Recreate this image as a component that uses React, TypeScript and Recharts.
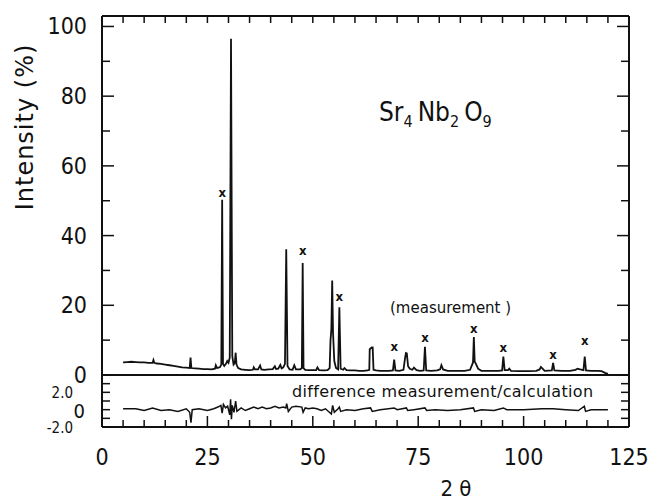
import React from 'react';
import { ComposedChart, Line, Scatter, XAxis, YAxis } from 'recharts';

// measured pattern: [2 theta, intensity %]
const measured: [number, number][] = [
  [5, 3.6], [6, 3.7], [7, 3.8], [8, 3.7], [9, 3.6], [10, 3.6], [11, 3.5], [12, 3.5], [12.2, 4.3], [12.4, 3.5],
  [13, 3.3], [14, 3.2], [15, 3.0], [16, 2.8], [17, 2.6], [18, 2.4], [19, 2.2], [20, 2.1], [20.8, 2.0], [21.0, 5.0],
  [21.2, 2.0], [22, 1.9], [23, 1.8], [24, 1.7], [25, 1.7], [26, 1.6], [26.8, 1.8], [27.0, 2.8], [27.3, 2.0], [28.0, 2.3],
  [28.3, 3.0], [28.5, 50.3], [28.7, 3.2], [29.0, 2.6], [29.4, 3.2], [29.7, 4.0], [30.0, 3.5], [30.3, 5.0], [30.6, 96.5], [30.9, 5.5],
  [31.2, 3.0], [31.5, 3.5], [31.7, 6.4], [31.9, 3.0], [32.3, 2.0], [33, 1.6], [34, 1.5], [35, 1.4], [35.8, 1.5], [36.0, 2.2],
  [36.3, 1.6], [37, 1.6], [37.5, 2.7], [37.8, 1.6], [38.5, 1.5], [39.5, 1.6], [40.5, 1.7], [41.0, 2.5], [41.3, 1.7], [41.8, 1.8],
  [42.3, 2.9], [42.6, 1.9], [43.0, 2.2], [43.4, 3.2], [43.7, 36.1], [44.0, 2.6], [44.5, 1.6], [45.2, 1.5], [45.6, 2.8], [46.0, 1.6],
  [47.0, 1.6], [47.4, 2.0], [47.6, 32.1], [47.8, 2.0], [48.2, 1.5], [49, 1.4], [50, 1.4], [50.8, 1.4], [51.1, 2.2], [51.5, 1.4],
  [52.5, 1.3], [53.5, 1.4], [54.0, 2.0], [54.2, 10.0], [54.4, 13.0], [54.6, 27.1], [54.8, 12.0], [55.1, 4.0], [55.5, 2.0], [56.0, 1.6],
  [56.3, 19.4], [56.6, 1.8], [57.2, 1.5], [57.5, 2.0], [58, 1.4], [59, 1.3], [60, 1.3], [61, 1.2], [62, 1.2], [63, 1.3],
  [63.4, 1.5], [63.5, 7.4], [63.7, 7.6], [64.0, 7.9], [64.2, 7.9], [64.4, 1.5], [65, 1.3], [66, 1.2], [67, 1.2], [68, 1.2],
  [69.0, 1.3], [69.3, 4.4], [69.6, 1.3], [70.5, 1.2], [71.5, 1.5], [71.9, 5.0], [72.1, 6.3], [72.3, 6.2], [72.6, 2.5], [73.0, 1.8],
  [73.6, 1.5], [74.0, 2.1], [74.6, 1.4], [75.5, 1.2], [76.3, 1.3], [76.6, 8.1], [76.9, 1.3], [78, 1.2], [79.5, 1.3], [80.2, 1.6],
  [80.5, 2.8], [80.9, 1.6], [82, 1.2], [84, 1.2], [86, 1.2], [87.3, 1.5], [87.8, 3.0], [88.0, 3.6], [88.2, 10.9], [88.4, 3.8],
  [88.7, 3.2], [89.2, 1.8], [90, 1.2], [92, 1.2], [94, 1.2], [94.9, 1.3], [95.2, 5.3], [95.5, 1.4], [96.3, 1.4], [96.6, 1.8],
  [97, 1.2], [99, 1.1], [101, 1.1], [103, 1.2], [103.8, 1.6], [104.1, 2.3], [104.5, 1.8], [105, 1.2], [106.7, 1.3], [107.0, 3.5],
  [107.3, 1.3], [109, 1.2], [111, 1.2], [112.3, 1.5], [112.8, 1.8], [113.4, 1.6], [114.2, 1.4], [114.5, 5.3], [114.8, 1.3], [116, 1.2],
  [117.5, 1.2], [118.5, 1.1], [119.3, 0.6], [120, 0.3],
];

// difference measurement - calculation
const difference: [number, number][] = [
  [5, 0.1], [8, 0.1], [10, -0.1], [12, 0.2], [14, -0.1], [16, 0], [18, -0.2], [20, 0.1], [20.8, -0.3], [21.1, -1.5],
  [21.4, 0], [23, 0.1], [25, -0.1], [26.5, 0.1], [27.5, 0.3], [28.2, 0.5], [28.5, -0.4], [28.8, 0.6], [29.3, 0.2], [29.8, 0.4],
  [30.3, -0.6], [30.5, 1.2], [30.7, -1.1], [30.9, 0.5], [31.3, -0.3], [31.7, 1.0], [32, -0.2], [33, 0.2], [34, -0.1], [35, 0.1],
  [36, 0.3], [37, 0.1], [38, 0.3], [39, 0.1], [40, 0.2], [41, 0.4], [42, 0.2], [43, 0.3], [43.6, 0.2], [43.8, 0.7],
  [44.2, -0.2], [45, 0.3], [46, 0.4], [47.4, 0.3], [47.7, -0.3], [48.2, 0.2], [49, 0.1], [50, 0.2], [51, 0.1], [52, -0.1],
  [53, 0.1], [54.4, -0.5], [54.7, 0.5], [55.1, -0.3], [56, 0.1], [56.3, 0.3], [56.6, -0.2], [58, 0], [60, -0.1], [62, 0.1],
  [63.7, 0.2], [64.1, -0.2], [66, 0], [69.3, 0.2], [70, 0], [72.2, 0.2], [72.5, -0.1], [74, 0], [76.6, 0.2], [77, -0.1],
  [79, 0], [82, -0.1], [85, 0], [88.1, 0.2], [88.4, -0.2], [90, 0], [93, -0.1], [95.2, 0.2], [96, 0], [100, 0],
  [104.3, 0.1], [107, 0.1], [110, 0], [113, -0.1], [114.4, 0.4], [114.7, -0.2], [116, 0], [118, 0], [120, 0],
];

// "x" marks above the reflections
const reflexMarks: [number, number][] = [
  [28.5, 52.4], [47.6, 35.7], [56.3, 22.5], [69.3, 8.1], [76.6, 10.8], [88.2, 13.2], [95.2, 8.0], [107, 6.0], [114.5, 10.0],
];

const xTicks = [0, 5, 10, 15, 20, 25, 30, 35, 40, 45, 50, 55, 60, 65, 70, 75, 80, 85, 90, 95, 100, 105, 110, 115, 120, 125];
const xLabelled = [0, 25, 50, 75, 100, 125];
const yTicks = [0, 10, 20, 30, 40, 50, 60, 70, 80, 90, 100];
const yLabelled = [0, 20, 40, 60, 80, 100];
const diffTicks = [-2, -1, 0, 1, 2, 3];
const diffLabels: Record<string, string> = { '2': '2.0', '0': '0', '-2': '-2.0' };

const NUM_FONT = "'DejaVu Sans Condensed', 'Liberation Sans Narrow', 'DejaVu Sans', sans-serif";
const TEXT_FONT = "'DejaVu Sans', sans-serif";
const INK = '#111';

const mainData = measured.map(([x, y]) => ({ x, y }));
const diffData = difference.map(([x, y]) => ({ x, y }));
const markData = reflexMarks.map(([x, y]) => ({ x, y }));

const frame = { stroke: INK, strokeWidth: 2 };

const TopTick = ({ x, y }: any) => (
  <line x1={x} x2={x} y1={y} y2={y + 7} stroke={INK} strokeWidth={1.5} />
);

const BottomTick = ({ x, y, payload }: any) => {
  const v = payload.value;
  const major = xLabelled.includes(v);
  return (
    <g>
      <line x1={x} x2={x} y1={y} y2={y - (major ? 11 : 7)} stroke={INK} strokeWidth={1.5} />
      {major && (
        <text x={x} y={y + 30} textAnchor="middle" dominantBaseline="central" fontFamily={NUM_FONT} fontSize={23} fill={INK}>
          {v}
        </text>
      )}
    </g>
  );
};

const LeftTick = ({ x, y, payload }: any) => {
  const v = payload.value;
  const major = yLabelled.includes(v);
  return (
    <g>
      <line x1={x} x2={x + (major ? 12 : 8)} y1={y} y2={y} stroke={INK} strokeWidth={1.5} />
      {major && (
        <text x={x - 15} y={y} textAnchor="end" dominantBaseline="central" fontFamily={NUM_FONT} fontSize={23} fill={INK}>
          {v}
        </text>
      )}
    </g>
  );
};

const RightTick = ({ x, y, payload }: any) => {
  const major = yLabelled.includes(payload.value);
  return <line x1={x} x2={x - (major ? 12 : 8)} y1={y} y2={y} stroke={INK} strokeWidth={1.5} />;
};

const DiffLeftTick = ({ x, y, payload }: any) => {
  const label = diffLabels[String(payload.value)];
  const big = label === '0';
  return (
    <g>
      <line x1={x} x2={x + 8} y1={y} y2={y} stroke={INK} strokeWidth={1.5} />
      {label && (
        <text
          x={big ? x - 17 : x - 29}
          y={y + 1}
          textAnchor="end"
          dominantBaseline="central"
          fontFamily={NUM_FONT}
          fontSize={big ? 20 : 15}
          fill={INK}
        >
          {label}
        </text>
      )}
    </g>
  );
};

const DiffRightTick = ({ x, y }: any) => (
  <line x1={x} x2={x - 8} y1={y} y2={y} stroke={INK} strokeWidth={1.5} />
);

const CrossMark = ({ cx, cy }: any) => (
  <text x={cx} y={cy} textAnchor="middle" dominantBaseline="central" fontFamily={NUM_FONT} fontSize={13} fontWeight={600} fill={INK}>
    x
  </text>
);

const axisBase = { tickSize: 0, tickMargin: 0, tickLine: false, interval: 0 as const, allowDataOverflow: true };

export default function App() {
  return (
    <div style={{ position: 'absolute', left: 0, top: 0, width: 649, height: 503, background: '#fff' }}>
      <div style={{ position: 'absolute', left: 0, top: 370 }}>
        <ComposedChart width={649} height={133} margin={{ top: 4, right: 19, bottom: 75, left: 101 }}>
          <XAxis xAxisId="top" orientation="top" type="number" dataKey="x" domain={[0, 125]}
            height={1} axisLine={frame} tick={false} {...axisBase} />
          <XAxis xAxisId="bottom" orientation="bottom" type="number" dataKey="x" domain={[0, 125]} ticks={xTicks}
            height={1} axisLine={frame} tick={BottomTick} {...axisBase} />
          <YAxis yAxisId="left" type="number" domain={[-2, 4]} ticks={diffTicks}
            width={1} axisLine={frame} tick={DiffLeftTick} {...axisBase} />
          <YAxis yAxisId="right" orientation="right" type="number" domain={[-2, 4]} ticks={diffTicks}
            width={1} axisLine={frame} tick={DiffRightTick} {...axisBase} />
          <Line xAxisId="bottom" yAxisId="left" data={diffData} dataKey="y" type="linear" stroke={INK}
            strokeWidth={1.5} dot={false} isAnimationActive={false} />
        </ComposedChart>
      </div>
      <div style={{ position: 'absolute', left: 0, top: 0 }}>
        <ComposedChart width={649} height={388} margin={{ top: 15, right: 19, bottom: 13, left: 101 }}>
          <XAxis xAxisId="top" orientation="top" type="number" dataKey="x" domain={[0, 125]} ticks={xTicks}
            height={1} axisLine={frame} tick={TopTick} {...axisBase} />
          <YAxis yAxisId="left" type="number" domain={[0, 103]} ticks={yTicks}
            width={1} axisLine={frame} tick={LeftTick} {...axisBase} />
          <YAxis yAxisId="right" orientation="right" type="number" domain={[0, 103]} ticks={yTicks}
            width={1} axisLine={frame} tick={RightTick} {...axisBase} />
          <Line xAxisId="top" yAxisId="left" data={mainData} dataKey="y" type="linear" stroke={INK}
            strokeWidth={1.8} dot={false} isAnimationActive={false} />
          <Scatter xAxisId="top" yAxisId="left" data={markData} dataKey="y" shape={CrossMark} isAnimationActive={false} />
        </ComposedChart>
      </div>
      <svg width={649} height={503} style={{ position: 'absolute', left: 0, top: 0, pointerEvents: 'none' }}>
        <g fontFamily={TEXT_FONT} fill={INK}>
          <text x={25} y={127} transform="rotate(-90 25 127)" textAnchor="middle" dominantBaseline="central"
            fontSize={24} letterSpacing={1}>
            Intensity (%)
          </text>
          <text x={379} y={121} fontSize={26} fontFamily={NUM_FONT}>
            Sr<tspan fontSize={16} dy={6}>4</tspan>
            <tspan dx={5} dy={-6}>Nb</tspan>
            <tspan fontSize={16} dy={6}>2</tspan>
            <tspan dx={5} dy={-6}>O</tspan>
            <tspan fontSize={16} dy={6}>9</tspan>
          </text>
          <text x={390} y={308} dominantBaseline="central" fontSize={15}>(measurement )</text>
          <text x={292} y={391} dominantBaseline="central" fontSize={16} letterSpacing={0.35}>
            difference measurement/calculation
          </text>
          <text x={456} y={488} textAnchor="middle" dominantBaseline="central" fontSize={22} fontFamily={NUM_FONT}>2 θ</text>
        </g>
      </svg>
    </div>
  );
}
